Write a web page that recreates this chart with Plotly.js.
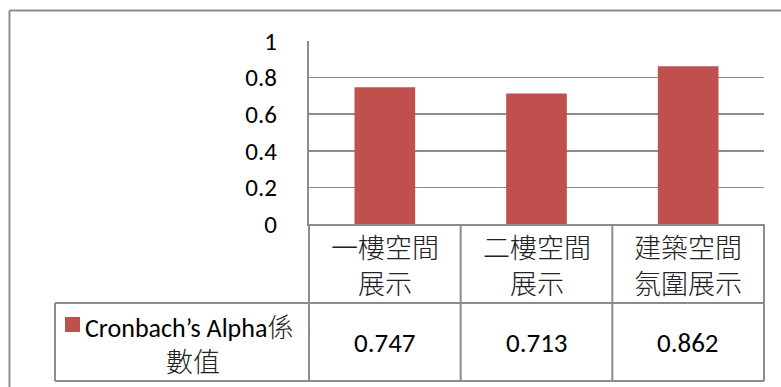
<!DOCTYPE html>
<html>
<head>
<meta charset="utf-8">
<script src="https://cdn.plot.ly/plotly-3.0.1.min.js"></script>
<style>html,body{margin:0;padding:0;background:#fff;}#chart{width:781px;height:387px;}</style>
</head>
<body>
<div id="chart"></div>
<script>
// ---- data ----
var categories = ["一樓空間展示", "二樓空間展示", "建築空間氛圍展示"];
var categoryLine1 = ["一樓空間", "二樓空間", "建築空間"];
var categoryLine2 = ["展示", "展示", "氛圍展示"];
var alphaValues = [0.747, 0.713, 0.862];
var valueLabels = ["0.747", "0.713", "0.862"];
var seriesNameLine1 = "Cronbach’s Alpha係";
var seriesNameLine2 = "數值";
var yTickVals = [0, 0.2, 0.4, 0.6, 0.8, 1];
var yTickText = ["0", "0.2", "0.4", "0.6", "0.8", "1"];

// ---- layout geometry ----
var W = 781, H = 387;
var mL = 309, mR = 17, mT = 41, mB = 163;
var pw = W - mL - mR, ph = H - mT - mB;
function px(x) { return (x - mL) / pw; }
function py(y) { return (H - mB - y) / ph; }

var latin = "Carlito, Lato, 'Noto Sans CJK TC', sans-serif";
var cjk = "'Noto Sans CJK TC', 'Noto Sans CJK SC', sans-serif";
var barColor = "#C0504D";
var lineColor = "#8c8c8c";

var trace = {
  type: "bar",
  x: categories,
  y: alphaValues,
  marker: { color: barColor },
  hoverinfo: "none",
  showlegend: false
};

var shapes = [];
function line(x0, y0, x1, y1, xr) {
  shapes.push({ type: "line", xref: xr || "paper", yref: "paper",
    x0: x0, y0: y0, x1: x1, y1: y1,
    line: { color: lineColor, width: 2 } });
}
// outer chart border (top & left)
line(px(9.5), py(10.5), px(790), py(10.5));
line(px(9.5), py(10.5), px(9.5), py(400));
// table horizontal lines
line(px(55), py(303), px(764), py(303));
line(px(55), py(381), px(764), py(381));
// table vertical lines
line(px(55), py(303), px(55), py(381));
line(px(309), py(224), px(309), py(381));
[0.5, 1.5].forEach(function (b) {
  shapes.push({ type: "line", xref: "x", yref: "paper", x0: b, x1: b,
    y0: py(224), y1: py(381), line: { color: lineColor, width: 2 } });
});
line(px(764), py(224), px(764), py(381));
// legend key
shapes.push({ type: "rect", xref: "paper", yref: "paper",
  x0: px(65), x1: px(80), y0: py(317), y1: py(332),
  fillcolor: barColor, line: { width: 0 } });

var cjkFont = { family: cjk, size: 27, color: "#222", weight: 300 };
var annotations = [];
categories.forEach(function (c, i) {
  annotations.push({ xref: "x", yref: "paper", x: c, y: py(247), text: categoryLine1[i],
    showarrow: false, xanchor: "center", yanchor: "middle", font: cjkFont });
  annotations.push({ xref: "x", yref: "paper", x: c, y: py(282), text: categoryLine2[i],
    showarrow: false, xanchor: "center", yanchor: "middle", font: cjkFont });
  annotations.push({ xref: "x", yref: "paper", x: c, y: py(342), text: valueLabels[i],
    showarrow: false, xanchor: "center", yanchor: "middle",
    font: { family: latin, size: 27, color: "#000" } });
});
annotations.push({ xref: "paper", yref: "paper", x: px(83), y: py(325),
  text: "Cronbach’s Alpha<span style=\"font-family:'Noto Sans CJK TC';font-weight:300;color:#222\">係</span>",
  showarrow: false, xanchor: "left", yanchor: "middle",
  font: { family: latin, size: 26, color: "#000" } });
annotations.push({ xref: "paper", yref: "paper", x: px(193), y: py(360),
  text: seriesNameLine2, showarrow: false, xanchor: "center", yanchor: "middle", font: cjkFont });

var layout = {
  width: W, height: H,
  margin: { l: mL, r: mR, t: mT, b: mB, pad: 0 },
  paper_bgcolor: "#fff", plot_bgcolor: "#fff",
  bargap: 0.6,
  showlegend: false,
  xaxis: {
    type: "category", showticklabels: false, ticks: "",
    showgrid: false, zeroline: false, showline: true,
    linecolor: lineColor, linewidth: 2, range: [-0.5, 2.5], fixedrange: true
  },
  yaxis: {
    range: [0, 1], tickvals: yTickVals, ticktext: yTickText,
    showgrid: true, gridcolor: lineColor, gridwidth: 1.5,
    zeroline: false, showline: true, linecolor: lineColor, linewidth: 2,
    ticks: "", ticklabelstandoff: 25,
    tickfont: { family: latin, size: 25, color: "#000" }, fixedrange: true
  },
  shapes: shapes,
  annotations: annotations
};

Plotly.newPlot("chart", [trace], layout, { displayModeBar: false, staticPlot: true });
</script>
</body>
</html>
